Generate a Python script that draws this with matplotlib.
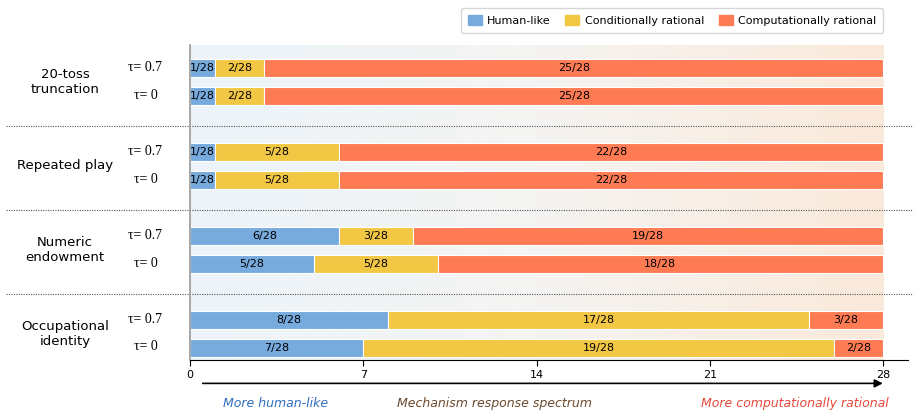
import matplotlib.pyplot as plt
import numpy as np
from matplotlib.colors import LinearSegmentedColormap

groups = ['20-toss\ntruncation', 'Repeated play', 'Numeric\nendowment', 'Occupational\nidentity']
taus = ['τ= 0.7', 'τ= 0']
total = 28

# counts per group: [tau=0.7, tau=0] x [human-like, conditional, computational]
human = [[1, 1], [1, 1], [6, 5], [8, 7]]
conditional = [[2, 2], [5, 5], [3, 5], [17, 19]]
computational = [[25, 25], [22, 22], [19, 18], [3, 2]]

categories = ['Human-like', 'Conditionally rational', 'Computationally rational']
colors = ['#77AADD', '#F2C744', '#FF7B54']

fig = plt.figure(figsize=(9.18, 4.17), dpi=100)
ax = fig.add_axes([0.207, 0.137, 0.782, 0.755])

ylo, yhi = -0.82, 10.43
ax.set_xlim(0, 29)
ax.set_ylim(yhi, ylo)

# background gradient
cmap = LinearSegmentedColormap.from_list('bg', ['#ECF4FA', '#F5F4F2', '#FAE9DB'])
grad = np.linspace(0, 1, 256).reshape(1, -1)
ax.imshow(grad, extent=(0, total, yhi, ylo), aspect='auto', cmap=cmap, zorder=0)

for g in range(len(groups)):
    for t in range(2):
        y = 3 * g + t
        vals = [human[g][t], conditional[g][t], computational[g][t]]
        left = 0
        for v, c in zip(vals, colors):
            ax.barh(y, v, left=left, height=0.62, color=c, edgecolor='white', linewidth=0.8, zorder=2)
            ax.text(left + v / 2, y, f'{v}/{total}', ha='center', va='center', fontsize=8, zorder=3)
            left += v
        ax.text(-1.8, y - 0.03, taus[t], ha='center', va='center', fontsize=10,
                family='Liberation Serif')
    ax.text(-5.05, 3 * g + 0.5, groups[g], ha='center', va='center', fontsize=9.5)
    if g < len(groups) - 1:
        ax.plot([-7.45, 29.2], [3 * g + 2.07] * 2, color='#555555', linestyle=(0, (1, 1.2)),
                linewidth=0.8, clip_on=False, zorder=1)

ax.set_xticks([0, 7, 14, 21, 28])
ax.tick_params(axis='x', labelsize=8, length=4)
ax.set_yticks([])
for s in ['top', 'right']:
    ax.spines[s].set_visible(False)
ax.spines['left'].set_color('#999999')
ax.spines['left'].set_linewidth(1.2)

# arrow under the axis
ax.annotate('', xy=(28.1, 11.27), xytext=(0.4, 11.27), annotation_clip=False,
            arrowprops=dict(arrowstyle='-|>', color='black', lw=1.2, mutation_scale=12))
ax.text(3.45, 12.0, 'More human-like', color='#2F6FBF', style='italic', fontsize=9,
        ha='center', va='center', clip_on=False)
ax.text(12.3, 12.0, 'Mechanism response spectrum', color='#6B4A2E', style='italic', fontsize=9,
        ha='center', va='center', clip_on=False)
ax.text(24.45, 12.0, 'More computationally rational', color='#E8483A', style='italic', fontsize=9,
        ha='center', va='center', clip_on=False)

handles = [plt.Rectangle((0, 0), 1, 1, color=c) for c in colors]
fig.legend(handles, categories, loc='upper right', bbox_to_anchor=(0.968, 0.993), ncol=3,
           fontsize=8, frameon=True, handlelength=1.25, handleheight=1.0, columnspacing=1.3,
           handletextpad=0.5, borderpad=0.6, edgecolor='#CCCCCC', fancybox=True)

fig.savefig('out.png', dpi=100)
